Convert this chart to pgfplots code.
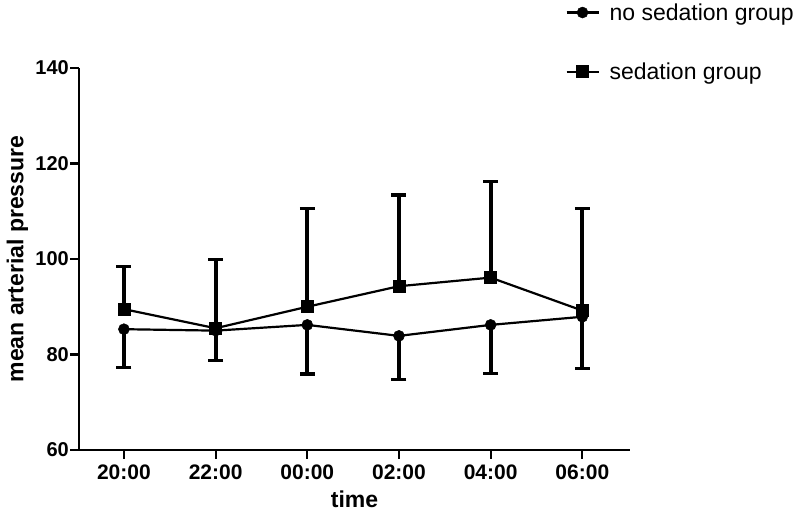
\documentclass[border=0pt]{standalone}
\usepackage{fontspec}
\setmainfont{Liberation Sans}
\usepackage{pgfplots}
\usepackage{pgfplotstable}
\pgfplotsset{compat=1.18}
\pgfplotstableread{
x y e
0 85.3 8.0
1 85.0 6.2
2 86.2 10.3
3 83.9 9.2
4 86.2 10.1
5 87.9 10.8
}\nosed
\pgfplotstableread{
x y e
0 89.5 9.0
1 85.5 14.4
2 90.0 20.5
3 94.3 19.1
4 96.1 20.1
5 89.2 21.4
}\sed
\begin{document}
\begin{tikzpicture}[x=1pt,y=1pt]
\useasboundingbox (0,0) rectangle (800,513);
\begin{axis}[
 at={(79pt,63pt)}, anchor=south west,
 scale only axis, width=551pt, height=382pt,
 xmin=-0.49, xmax=5.52, ymin=60, ymax=140,
 axis lines*=left, axis line style={line width=2.5pt, black},
 xtick={0,...,5}, xticklabels={20:00,22:00,00:00,02:00,04:00,06:00},
 ytick={60,80,...,140},
 tick align=outside, major tick length=9pt,
 tick style={line width=2.2pt, black},
 yticklabel style={font=\fontsize{20}{22}\selectfont\bfseries, inner sep=1pt},
 xticklabel style={font=\fontsize{21}{23}\selectfont\bfseries, yshift=-2pt},
 /pgf/number format/assume math mode=true,
 xlabel={time}, ylabel={mean arterial pressure},
 label style={font=\fontsize{23}{25}\selectfont\bfseries},
 xlabel style={at={(axis description cs:0.5,-0.150)}, anchor=base, inner sep=0pt},
 ylabel style={at={(axis description cs:-0.092,0.5)}, anchor=south, inner sep=0pt},
 clip=false,
 legend cell align=left,
 legend style={at={(axis description cs:0.877,1.18)}, anchor=north west, draw=none, fill=none,
   font=\fontsize{23}{25}\selectfont, row sep=37pt,
   /tikz/every odd column/.style={column sep=8pt}},
 legend image code/.code={\draw[mark repeat=2, mark phase=2, #1] plot coordinates {(0pt,0pt) (16pt,0pt) (32pt,0pt)};},
]
\addplot[black, line width=2.2pt, mark=*, mark size=5.5pt, mark options={line width=0.5pt, fill=black},
  error bars/.cd, y dir=minus, y explicit,
  error bar style={line width=3.8pt},
  error mark options={line width=3.2pt, mark size=7.5pt, rotate=90}]
  table[x=x, y=y, y error minus=e]{\nosed};
\addlegendentry{no sedation group}
\addplot[black, line width=2.2pt, mark=square*, mark size=6pt, mark options={line width=0.5pt, fill=black},
  error bars/.cd, y dir=plus, y explicit,
  error bar style={line width=3.8pt},
  error mark options={line width=3.2pt, mark size=7.5pt, rotate=90}]
  table[x=x, y=y, y error plus=e]{\sed};
\addlegendentry{sedation group}
\end{axis}
\end{tikzpicture}
\end{document}
